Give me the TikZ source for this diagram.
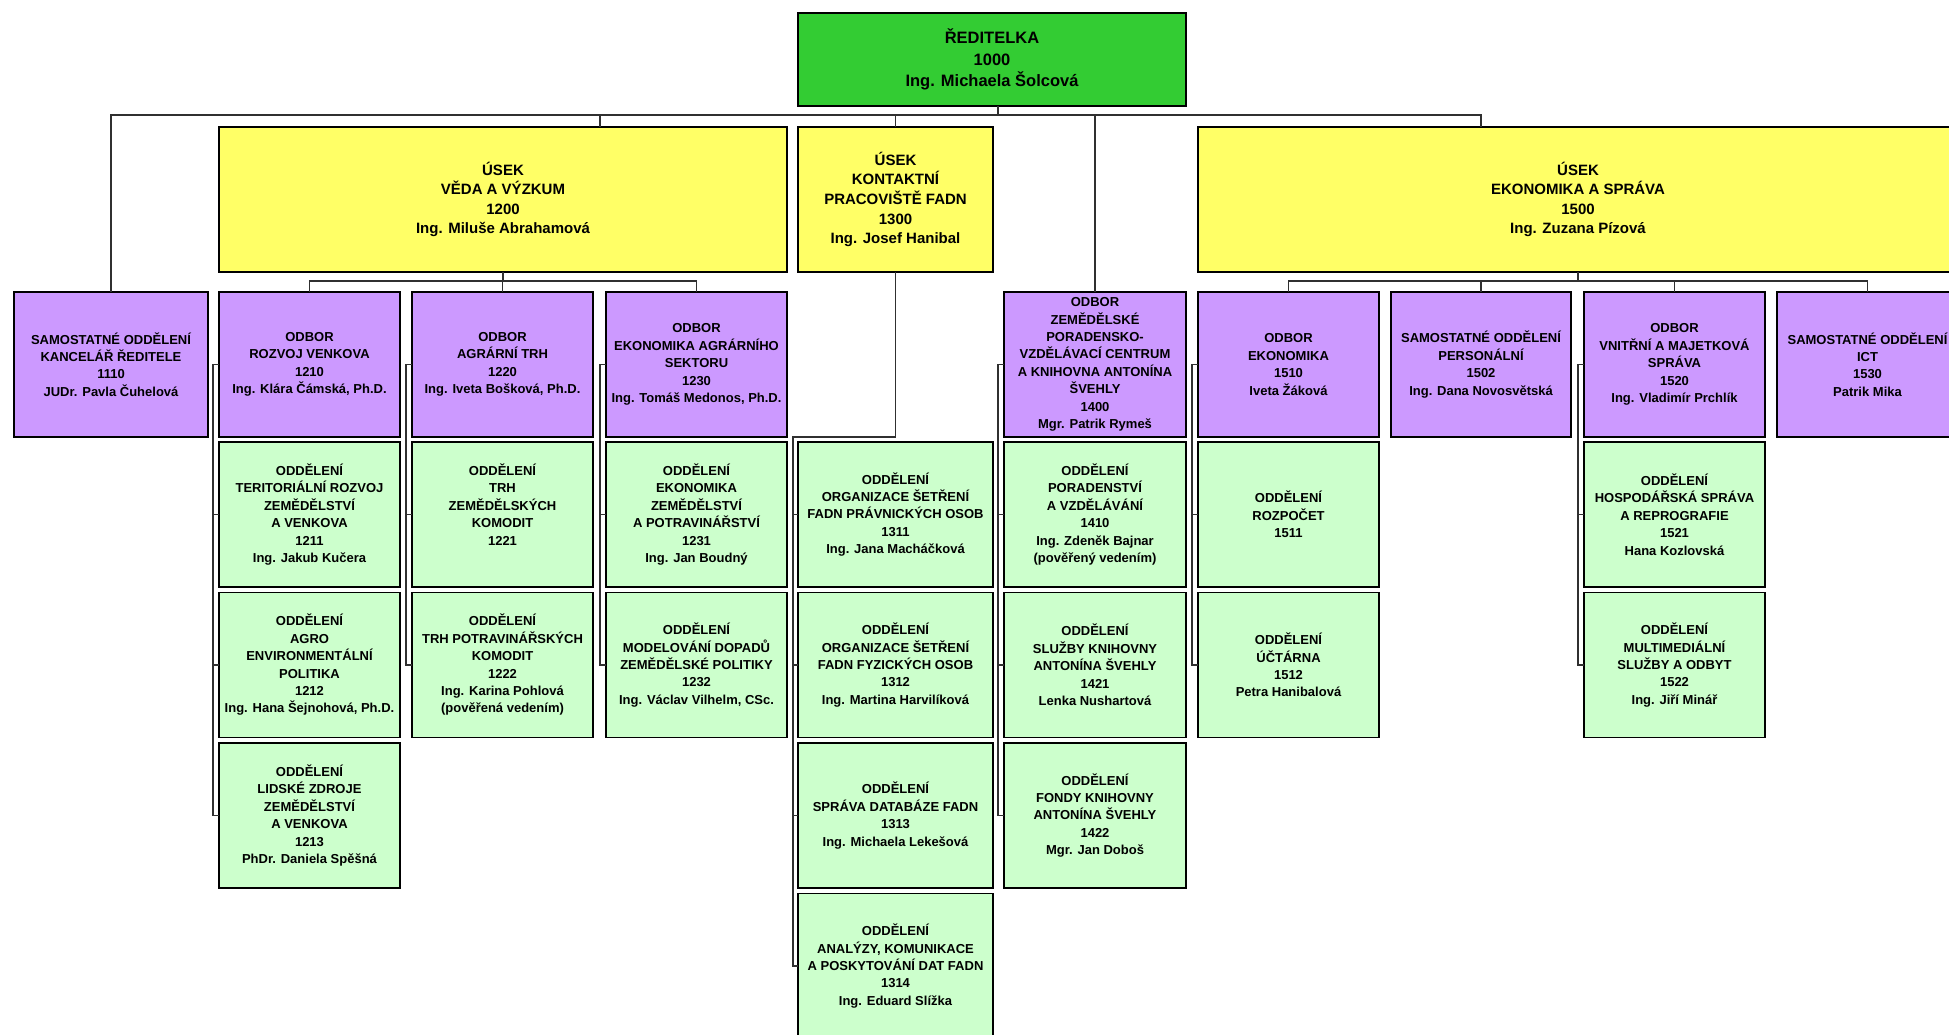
\documentclass[tikz,border=0pt]{standalone}
\usepackage{fontspec}
\setmainfont{Liberation Sans}
\definecolor{cTop}{HTML}{33CC33}
\definecolor{cYel}{HTML}{FFFF66}
\definecolor{cPur}{HTML}{CC99FF}
\definecolor{cLG}{HTML}{CCFFCC}
\definecolor{cLine}{HTML}{303030}
\begin{document}
\begin{tikzpicture}[x=1pt,y=-1pt,
  bx/.style 2 args={draw=black, line width=1.6pt, inner sep=0pt, outer sep=0pt, align=center,
    minimum width=#1pt, minimum height=#2pt, font=\fontsize{13}{17.4}\selectfont\bfseries},
  topb/.style={bx={388}{93}, fill=cTop, font=\fontsize{16.5}{21.8}\selectfont\bfseries},
  yb/.style={bx={#1}{145}, fill=cYel, font=\fontsize{15}{19.6}\selectfont\bfseries},
  pb/.style={bx={#1}{145}, fill=cPur},
  gb/.style={bx={#1}{145}, fill=cLG, line width=1.4pt},
  conn/.style={draw=cLine, line width=1.5pt}]
\useasboundingbox (0,0) rectangle (1949,1034);
\fill[white] (0,0) rectangle (1949,1034);
\clip (0,0) rectangle (1949,1034);

% top
\node[topb] (n1000) at (992,59.5) {ŘEDITELKA\\1000\\Ing. Michaela Šolcová};

% sections
\node[yb=568] (n1200) at (503,199.5) {ÚSEK\\VĚDA A VÝZKUM\\1200\\Ing. Miluše Abrahamová};
\node[yb=195] (n1300) at (895.5,199.5) {ÚSEK\\KONTAKTNÍ\\PRACOVIŠTĚ FADN\\1300\\Ing. Josef Hanibal};
\node[yb=760] (n1500) at (1578,199.5) {ÚSEK\\EKONOMIKA A SPRÁVA\\1500\\Ing. Zuzana Pízová};

% purple row
\node[pb=194] (n1110) at (111,364.5) {SAMOSTATNÉ ODDĚLENÍ\\KANCELÁŘ ŘEDITELE\\1110\\JUDr. Pavla Čuhelová};
\node[pb=181] (n1210) at (309.5,364.5) {ODBOR\\ROZVOJ VENKOVA\\1210\\Ing. Klára Čámská, Ph.D.};
\node[pb=181] (n1220) at (502.5,364.5) {ODBOR\\AGRÁRNÍ TRH\\1220\\Ing. Iveta Bošková, Ph.D.};
\node[pb=181] (n1230) at (696.5,364.5) {ODBOR\\EKONOMIKA AGRÁRNÍHO\\SEKTORU\\1230\\Ing. Tomáš Medonos, Ph.D.};
\node[pb=182] (n1400) at (1095,364.5) {ODBOR\\ZEMĚDĚLSKÉ\\PORADENSKO-\\VZDĚLÁVACÍ CENTRUM\\A KNIHOVNA ANTONÍNA\\ŠVEHLY\\1400\\Mgr. Patrik Rymeš};
\node[pb=181] (n1510) at (1288.5,364.5) {ODBOR\\EKONOMIKA\\1510\\Iveta Žáková};
\node[pb=180] (n1502) at (1481,364.5) {SAMOSTATNÉ ODDĚLENÍ\\PERSONÁLNÍ\\1502\\Ing. Dana Novosvětská};
\node[pb=181] (n1520) at (1674.5,364.5) {ODBOR\\VNITŘNÍ A MAJETKOVÁ\\SPRÁVA\\1520\\Ing. Vladimír Prchlík};
\node[pb=181] (n1530) at (1867.5,364.5) {SAMOSTATNÉ ODDĚLENÍ\\ICT\\1530\\Patrik Mika};

% green row 1
\node[gb=181] (n1211) at (309.5,514.5) {ODDĚLENÍ\\TERITORIÁLNÍ ROZVOJ\\ZEMĚDĚLSTVÍ\\A VENKOVA\\1211\\Ing. Jakub Kučera};
\node[gb=181] (n1221) at (502.5,514.5) {ODDĚLENÍ\\TRH\\ZEMĚDĚLSKÝCH\\KOMODIT\\1221\\\phantom{Ig}};
\node[gb=181] (n1231) at (696.5,514.5) {ODDĚLENÍ\\EKONOMIKA\\ZEMĚDĚLSTVÍ\\A POTRAVINÁŘSTVÍ\\1231\\Ing. Jan Boudný};
\node[gb=195] (n1311) at (895.5,514.5) {ODDĚLENÍ\\ORGANIZACE ŠETŘENÍ\\FADN PRÁVNICKÝCH OSOB\\1311\\Ing. Jana Macháčková};
\node[gb=182] (n1410) at (1095,514.5) {ODDĚLENÍ\\PORADENSTVÍ\\A VZDĚLÁVÁNÍ\\1410\\Ing. Zdeněk Bajnar\\(pověřený vedením)};
\node[gb=181] (n1511) at (1288.5,514.5) {ODDĚLENÍ\\ROZPOČET\\1511};
\node[gb=181] (n1521) at (1674.5,514.5) {ODDĚLENÍ\\HOSPODÁŘSKÁ SPRÁVA\\A REPROGRAFIE\\1521\\Hana Kozlovská};

% green row 2
\node[gb=181] (n1212) at (309.5,665) {ODDĚLENÍ\\AGRO\\ENVIRONMENTÁLNÍ\\POLITIKA\\1212\\Ing. Hana Šejnohová, Ph.D.};
\node[gb=181] (n1222) at (502.5,665) {ODDĚLENÍ\\TRH POTRAVINÁŘSKÝCH\\KOMODIT\\1222\\Ing. Karina Pohlová\\(pověřená vedením)};
\node[gb=181] (n1232) at (696.5,665) {ODDĚLENÍ\\MODELOVÁNÍ DOPADŮ\\ZEMĚDĚLSKÉ POLITIKY\\1232\\Ing. Václav Vilhelm, CSc.};
\node[gb=195] (n1312) at (895.5,665) {ODDĚLENÍ\\ORGANIZACE ŠETŘENÍ\\FADN FYZICKÝCH OSOB\\1312\\Ing. Martina Harvilíková};
\node[gb=182] (n1421) at (1095,665) {ODDĚLENÍ\\SLUŽBY KNIHOVNY\\ANTONÍNA ŠVEHLY\\1421\\Lenka Nushartová};
\node[gb=181] (n1512) at (1288.5,665) {ODDĚLENÍ\\ÚČTÁRNA\\1512\\Petra Hanibalová};
\node[gb=181] (n1522) at (1674.5,665) {ODDĚLENÍ\\MULTIMEDIÁLNÍ\\SLUŽBY A ODBYT\\1522\\Ing. Jiří Minář};

% green row 3
\node[gb=181] (n1213) at (309.5,815.5) {ODDĚLENÍ\\LIDSKÉ ZDROJE\\ZEMĚDĚLSTVÍ\\A VENKOVA\\1213\\PhDr. Daniela Spěšná};
\node[gb=195] (n1313) at (895.5,815.5) {ODDĚLENÍ\\SPRÁVA DATABÁZE FADN\\1313\\Ing. Michaela Lekešová};
\node[gb=182] (n1422) at (1095,815.5) {ODDĚLENÍ\\FONDY KNIHOVNY\\ANTONÍNA ŠVEHLY\\1422\\Mgr. Jan Doboš};

% green row 4
\node[gb=195] (n1314) at (895.5,966) {ODDĚLENÍ\\ANALÝZY, KOMUNIKACE\\A POSKYTOVÁNÍ DAT FADN\\1314\\Ing. Eduard Slížka};

% coordinates for buses
\coordinate (busL) at (111,115);
\coordinate (busR) at (1481,115);
\coordinate (b0) at (998,115);
\coordinate (t1200) at (600,115);
\coordinate (m1200) at (503,281);
\coordinate (k1210) at (213,364.5);
\coordinate (k1220) at (406,364.5);
\coordinate (k1230) at (600,364.5);
\coordinate (k1300) at (793,437);
\coordinate (k1400) at (998,364.5);
\coordinate (k1510) at (1192,364.5);
\coordinate (k1520) at (1578,364.5);

% top level
\draw[conn] (n1000.south -| b0) -- (b0);
\draw[conn] (n1110.north) -- (busL) -- (busR) -- (n1500.north -| busR);
\draw[conn] (t1200) -- (n1200.north -| t1200);
\draw[conn] (n1300.north |- busL) -- (n1300.north);
\draw[conn] (n1400.north |- busL) -- (n1400.north);

% 1200 children
\draw[conn] (n1200.south) -- (n1200.south |- m1200);
\draw[conn] (n1210.north) |- (n1230.north |- m1200) -- (n1230.north);
\draw[conn] (n1220.north |- m1200) -- (n1220.north);

% 1500 children
\draw[conn] (n1500.south) -- (n1500.south |- m1200);
\draw[conn] (n1510.north) |- (n1530.north |- m1200) -- (n1530.north);
\draw[conn] (n1502.north |- m1200) -- (n1502.north);
\draw[conn] (n1520.north |- m1200) -- (n1520.north);

% brackets
\draw[conn] (n1210.west) -- (k1210) |- (n1213.west);
\draw[conn] (k1210 |- n1211.west) -- (n1211.west);
\draw[conn] (k1210 |- n1212.west) -- (n1212.west);

\draw[conn] (n1220.west) -- (k1220) |- (n1222.west);
\draw[conn] (k1220 |- n1221.west) -- (n1221.west);

\draw[conn] (n1230.west) -- (k1230) |- (n1232.west);
\draw[conn] (k1230 |- n1231.west) -- (n1231.west);

\draw[conn] (n1300.south) |- (k1300) |- (n1314.west);
\draw[conn] (k1300 |- n1311.west) -- (n1311.west);
\draw[conn] (k1300 |- n1312.west) -- (n1312.west);
\draw[conn] (k1300 |- n1313.west) -- (n1313.west);

\draw[conn] (n1400.west) -- (k1400) |- (n1422.west);
\draw[conn] (k1400 |- n1410.west) -- (n1410.west);
\draw[conn] (k1400 |- n1421.west) -- (n1421.west);

\draw[conn] (n1510.west) -- (k1510) |- (n1512.west);
\draw[conn] (k1510 |- n1511.west) -- (n1511.west);

\draw[conn] (n1520.west) -- (k1520) |- (n1522.west);
\draw[conn] (k1520 |- n1521.west) -- (n1521.west);
\end{tikzpicture}
\end{document}
